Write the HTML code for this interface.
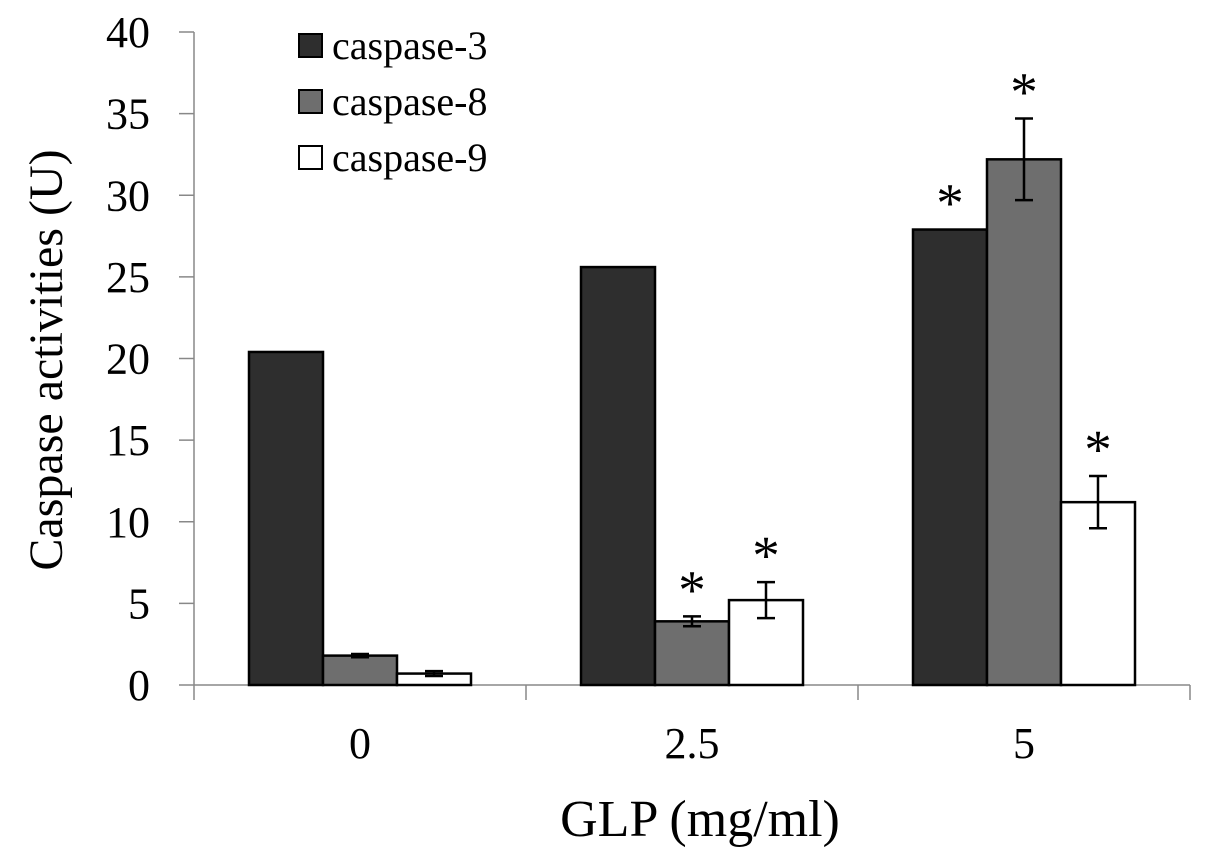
<!DOCTYPE html>
<html><head><meta charset="utf-8"><style>
html,body{margin:0;padding:0;background:#fff;}
svg{display:block;font-family:"Liberation Serif",serif;}
</style></head><body>
<svg id="chart" width="1205" height="862" viewBox="0 0 1205 862" xmlns="http://www.w3.org/2000/svg">
<g id="axes"></g><g id="bars"></g><g id="legend"></g>
</svg>
<script>
const categories=["0","2.5","5"];
const seriesNames=["caspase-3","caspase-8","caspase-9"];
const seriesColors=["#2e2e2e","#6e6e6e","#ffffff"];
const c3=[20.4,25.6,27.9];
const c8=[1.8,3.9,32.2];
const c9=[0.7,5.2,11.2];
const c3err=[0,0,0];
const c8err=[0.1,0.3,2.5];
const c9err=[0.15,1.1,1.6];
const c3sig=[false,false,true];
const c8sig=[false,true,true];
const c9sig=[false,true,true];
const yTicks=[0,5,10,15,20,25,30,35,40];
const series=[c3,c8,c9],errs=[c3err,c8err,c9err],sigs=[c3sig,c8sig,c9sig];
const NS="http://www.w3.org/2000/svg";
const x0=194,x1=1190,y0=685,yTop=32,yMax=40;
const y=v=>y0-(v/yMax)*(y0-yTop);
const band=(x1-x0)/categories.length;
const cx=i=>x0+band*(i+0.5);
const bw=74;
function mk(tag,attrs,parent,text){const e=document.createElementNS(NS,tag);for(const k in attrs)e.setAttribute(k,attrs[k]);if(text!==undefined)e.textContent=text;parent.appendChild(e);return e;}
const axes=document.getElementById('axes'),bars=document.getElementById('bars'),leg=document.getElementById('legend');
let e=mk('line',{x1:x0,y1:yTop,x2:x0,y2:y0,stroke:'#888','stroke-width':1.5},axes);


e=mk('line',{x1:x0,y1:y0,x2:x1,y2:y0,stroke:'#888','stroke-width':1.5},axes);


yTicks.forEach(t=>{
 mk('line',{x1:x0-15,y1:y(t),x2:x0,y2:y(t),stroke:'#888','stroke-width':1.5},axes);
 const l=mk('text',{x:150,y:y(t)+15,'text-anchor':'end','font-size':44},axes,String(t));
 
 
});
for(let i=0;i<=categories.length;i++){mk('line',{x1:x0+band*i,y1:y0,x2:x0+band*i,y2:y0+15,stroke:'#888','stroke-width':1.5},axes);}
categories.forEach((c,i)=>{
 const l=mk('text',{x:cx(i),y:758,'text-anchor':'middle','font-size':44},axes,c);
 
 
});
e=mk('text',{x:700,y:836,'text-anchor':'middle','font-size':52},axes,'GLP (mg/ml)');


e=mk('text',{x:0,y:0,'text-anchor':'middle','font-size':48,transform:'translate(62,360) rotate(-90)'},axes,'Caspase activities (U)');


categories.forEach((c,i)=>{
 series.forEach((s,k)=>{
  const bx=cx(i)-1.5*bw+k*bw;
  const r=mk('rect',{x:bx,y:y(s[i]),width:bw,height:y0-y(s[i]),fill:seriesColors[k],stroke:'#000','stroke-width':2.5},bars);
  
  
  const er=errs[k][i],mx=bx+bw/2;
  let top=y(s[i]);
  if(er>0){
   const g=mk('g',{stroke:'#000','stroke-width':2.5},bars);
   
   
   mk('line',{x1:mx,y1:y(s[i]+er),x2:mx,y2:y(s[i]-er)},g);
   mk('line',{x1:mx-9,y1:y(s[i]+er),x2:mx+9,y2:y(s[i]+er)},g);
   mk('line',{x1:mx-9,y1:y(s[i]-er),x2:mx+9,y2:y(s[i]-er)},g);
   top=y(s[i]+er);
  }
  if(sigs[k][i]){
   const st=mk('text',{x:mx,y:top-8,'text-anchor':'middle','font-size':55},bars,'*');
   
   
  }
 });
});
seriesNames.forEach((n,k)=>{
 const g=mk('g',{},leg);
 
 
 mk('rect',{x:299,y:34+k*56,width:23,height:23,fill:seriesColors[k],stroke:'#000','stroke-width':2},g);
 mk('text',{x:332,y:59+k*56,'font-size':40},g,n);
});
</script>
</body></html>
